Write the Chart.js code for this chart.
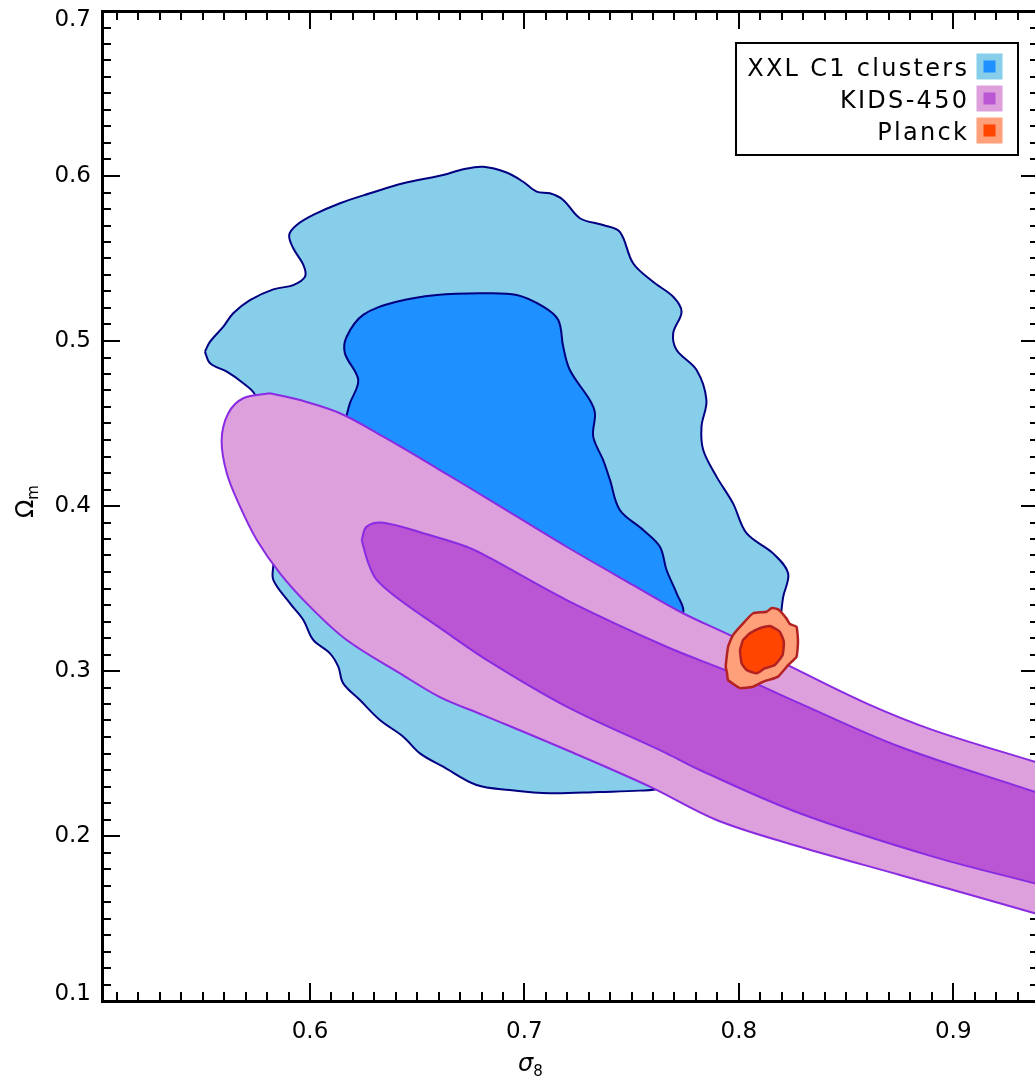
<!DOCTYPE html>
<html>
<head>
<meta charset="utf-8">
<script src="https://cdn.jsdelivr.net/npm/chart.js@4.4.1/dist/chart.umd.min.js"></script>
<style>
  html, body { margin: 0; padding: 0; background: #fff; overflow: hidden; }
  canvas { display: block; }
</style>
</head>
<body>
<canvas id="c" width="1045" height="1079"></canvas>
<script>
// Axis ranges and labelled ticks
const xRange = [0.503, 0.94];
const yRange = [0.1, 0.7];
const xTickValues = [0.6, 0.7, 0.8, 0.9];
const xTickLabels = ['0.6', '0.7', '0.8', '0.9'];
const yTickValues = [0.1, 0.2, 0.3, 0.4, 0.5, 0.6, 0.7];
const yTickLabels = ['0.1', '0.2', '0.3', '0.4', '0.5', '0.6', '0.7'];

// Probes and their colours (outer = 2 sigma, inner = 1 sigma)
const seriesNames = ['XXL C1 clusters', 'KIDS-450', 'Planck'];
const outerColors = ['#87CEEB', '#DDA0DD', '#FFA07A'];
const innerColors = ['#1E90FF', '#BA55D3', '#FF4500'];
const edgeColors  = ['#000080', '#8A2BE2', '#B22222'];

// Contour vertices, [sigma8, Omega_m]
const xxlOuter = [
  [0.5510,0.4935],[0.5534,0.4996],[0.5596,0.5087],[0.5642,0.5168],[0.5720,0.5248],[0.5829,0.5313],
  [0.5922,0.5339],[0.5977,0.5390],[0.5969,0.5461],[0.5922,0.5562],[0.5903,0.5642],[0.5938,0.5703],
  [0.6015,0.5764],[0.6140,0.5835],[0.6280,0.5895],[0.6435,0.5956],[0.6621,0.6006],[0.6715,0.6041],
  [0.6808,0.6056],[0.6917,0.6021],[0.6994,0.5965],[0.7057,0.5905],[0.7119,0.5895],[0.7181,0.5855],
  [0.7259,0.5744],[0.7367,0.5703],[0.7445,0.5662],[0.7507,0.5471],[0.7600,0.5359],[0.7694,0.5268],
  [0.7733,0.5178],[0.7694,0.5047],[0.7710,0.4945],[0.7803,0.4824],[0.7849,0.4642],[0.7826,0.4481],
  [0.7834,0.4339],[0.7896,0.4178],[0.7973,0.4016],[0.8036,0.3835],[0.8160,0.3713],[0.8230,0.3592],
  [0.8207,0.3450],[0.8199,0.3370],[0.8182,0.3188],[0.8121,0.2885],[0.8005,0.2642],[0.7818,0.2430],
  [0.7632,0.2291],[0.7538,0.2275],[0.7352,0.2267],[0.7119,0.2259],[0.6932,0.2279],[0.6777,0.2309],
  [0.6621,0.2420],[0.6513,0.2501],[0.6435,0.2602],[0.6326,0.2703],[0.6233,0.2824],[0.6155,0.2925],
  [0.6132,0.3026],[0.6093,0.3107],[0.6015,0.3188],[0.5969,0.3309],[0.5907,0.3410],[0.5829,0.3552],
  [0.5829,0.3653],[0.5814,0.3855],[0.5795,0.4158],[0.5776,0.4461],[0.5744,0.4673],[0.5689,0.4744],
  [0.5612,0.4814],[0.5534,0.4865]
];
const xxlInner = [
  [0.6171,0.4552],[0.6186,0.4622],[0.6225,0.4764],[0.6163,0.4925],[0.6171,0.5026],[0.6248,0.5158],
  [0.6404,0.5238],[0.6591,0.5279],[0.6793,0.5289],[0.6964,0.5279],[0.7088,0.5208],[0.7158,0.5127],
  [0.7181,0.4965],[0.7212,0.4824],[0.7305,0.4642],[0.7329,0.4562],[0.7321,0.4420],[0.7367,0.4279],
  [0.7399,0.4158],[0.7445,0.3976],[0.7554,0.3855],[0.7632,0.3753],[0.7663,0.3612],[0.7710,0.3471],
  [0.7740,0.3350],[0.7632,0.3188],[0.7166,0.3430],[0.6653,0.3794],[0.6326,0.4218],[0.6172,0.4461]
];
const kidsOuter = [
  [0.5814,0.4683],[0.5953,0.4642],[0.6140,0.4562],[0.6342,0.4420],[0.6606,0.4218],[0.6839,0.4036],
  [0.7197,0.3753],[0.7507,0.3521],[0.7740,0.3350],[0.7973,0.3208],[0.8238,0.3030],[0.8595,0.2804],
  [0.8906,0.2642],[0.9380,0.2450],[0.9750,0.2300],
  [0.9750,0.1395],[0.9380,0.1532],[0.8751,0.1764],[0.8284,0.1935],[0.7896,0.2097],[0.7585,0.2299],
  [0.7197,0.2521],[0.6808,0.2733],[0.6606,0.2842],[0.6420,0.2986],[0.6171,0.3188],[0.6000,0.3390],
  [0.5860,0.3592],[0.5752,0.3794],[0.5674,0.3996],[0.5612,0.4198],[0.5588,0.4400],[0.5619,0.4562],
  [0.5689,0.4653]
];
const kidsInner = [
  [0.6241,0.3794],[0.6264,0.3875],[0.6342,0.3899],[0.6528,0.3835],[0.6731,0.3753],[0.6839,0.3685],
  [0.7197,0.3430],[0.7663,0.3147],[0.7973,0.2986],[0.8284,0.2804],[0.8751,0.2541],[0.9380,0.2268],
  [0.9750,0.2107],
  [0.9750,0.1586],[0.9380,0.1713],[0.8906,0.1875],[0.8284,0.2138],[0.7818,0.2400],[0.7663,0.2501],
  [0.7197,0.2784],[0.6839,0.3055],[0.6606,0.3261],[0.6420,0.3430],[0.6311,0.3552],[0.6270,0.3661]
];
const planckOuter = [
  [0.8005,0.2895],[0.7950,0.2945],[0.7945,0.2988],[0.7939,0.3026],[0.7950,0.3147],[0.7973,0.3218],
  [0.8020,0.3289],[0.8067,0.3350],[0.8129,0.3359],[0.8154,0.3382],[0.8183,0.3374],[0.8222,0.3319],
  [0.8238,0.3285],[0.8269,0.3268],[0.8276,0.3178],[0.8269,0.3087],[0.8230,0.3036],[0.8183,0.2966],
  [0.8113,0.2935],[0.8067,0.2905]
];
const planckInner = [
  [0.8005,0.3127],[0.8020,0.3188],[0.8051,0.3228],[0.8098,0.3259],[0.8145,0.3273],[0.8191,0.3238],
  [0.8210,0.3178],[0.8204,0.3097],[0.8168,0.3036],[0.8121,0.3016],[0.8083,0.2986],[0.8036,0.3006],
  [0.8013,0.3047]
];

const FONT = '"DejaVu Sans", "Liberation Sans", sans-serif';

// closed polygon as {x, y} points
const closed = pts => pts.concat([pts[0]]).map(([x, y]) => ({ x, y }));

function contour(pts, fillColor, edgeColor, width, tension, order) {
  return {
    data: closed(pts),
    showLine: true,
    fill: 'shape',
    backgroundColor: fillColor,
    borderColor: edgeColor,
    borderWidth: width,
    tension: tension,
    capBezierPoints: false,
    pointRadius: 0,
    pointHoverRadius: 0,
    order: order
  };
}

const datasets = [
  contour(xxlOuter,    outerColors[0], edgeColors[0], 2,   0.35, 6),
  contour(xxlInner,    innerColors[0], edgeColors[0], 2,   0.35, 5),
  contour(kidsOuter,   outerColors[1], edgeColors[1], 2,   0.35, 4),
  contour(kidsInner,   innerColors[1], edgeColors[1], 2,   0.35, 3),
  contour(planckOuter, outerColors[2], edgeColors[2], 2.5, 0.15, 2),
  contour(planckInner, innerColors[2], edgeColors[2], 2.5, 0.15, 1)
];
datasets.forEach((d, i) => { d.label = seriesNames[Math.floor(i / 2)]; });

// inward minor / major tick marks on all four sides
const tickMarks = {
  id: 'tickMarks',
  beforeDatasetsDraw(chart) {
    const { ctx, chartArea: a, scales } = chart;
    ctx.save();
    ctx.strokeStyle = '#000';
    ctx.lineWidth = 2;
    ctx.beginPath();
    const xs = scales.x, ys = scales.y;
    for (let i = Math.ceil(xs.min * 100 - 1e-6); i <= Math.floor(xs.max * 100 + 1e-6); i++) {
      const px = Math.round(xs.getPixelForValue(i / 100));
      const len = i % 10 === 0 ? 18 : 9;
      ctx.moveTo(px, a.bottom); ctx.lineTo(px, a.bottom - len);
      ctx.moveTo(px, a.top);    ctx.lineTo(px, a.top + len);
    }
    for (let i = Math.ceil(ys.min * 100 - 1e-6); i <= Math.floor(ys.max * 100 + 1e-6); i++) {
      const py = Math.round(ys.getPixelForValue(i / 100));
      const len = i % 10 === 0 ? 18 : 9;
      ctx.moveTo(a.left, py);  ctx.lineTo(a.left + len, py);
      ctx.moveTo(a.right, py); ctx.lineTo(a.right - len, py);
    }
    ctx.stroke();
    ctx.restore();
  }
};

// axis titles with subscripts
const axisTitles = {
  id: 'axisTitles',
  afterDraw(chart) {
    const { ctx, chartArea: a } = chart;
    ctx.save();
    ctx.fillStyle = '#000';
    ctx.textBaseline = 'alphabetic';
    // sigma_8
    ctx.textAlign = 'left';
    ctx.font = 'italic 24px ' + FONT;
    const sx = a.left + 416, sy = a.bottom + 70;
    ctx.fillText('σ', sx, sy);
    const sw = ctx.measureText('σ').width;
    ctx.font = '15px ' + FONT;
    ctx.fillText('8', sx + sw, sy + 5);
    // Omega_m, rotated
    ctx.translate(a.left - 69, (a.top + a.bottom) / 2 + 12);
    ctx.rotate(-Math.PI / 2);
    ctx.font = '24px ' + FONT;
    ctx.fillText('Ω', 0, 0);
    const ow = ctx.measureText('Ω').width;
    ctx.font = '15px ' + FONT;
    ctx.fillText('m', ow, 5);
    ctx.restore();
  }
};

// framed legend in the upper right, swatch = outer square with inner square
const legendBox = {
  id: 'legendBox',
  afterDraw(chart) {
    const { ctx, chartArea: a } = chart;
    const right = a.right - 21, top = a.top + 32, w = 282, h = 112;
    ctx.save();
    ctx.fillStyle = '#fff';
    ctx.fillRect(right - w, top, w, h);
    ctx.strokeStyle = '#000';
    ctx.lineWidth = 2;
    ctx.strokeRect(right - w, top, w, h);
    ctx.font = '24px ' + FONT;
    ctx.letterSpacing = '2.3px';
    ctx.textAlign = 'right';
    ctx.textBaseline = 'alphabetic';
    seriesNames.forEach((name, i) => {
      const cy = top + 23.5 + 32 * i;
      const cx = right - 28.5;
      ctx.fillStyle = outerColors[i];
      ctx.fillRect(cx - 13, cy - 13, 26, 26);
      ctx.fillStyle = innerColors[i];
      ctx.fillRect(cx - 6, cy - 6, 12, 12);
      ctx.fillStyle = '#000';
      ctx.fillText(name, right - 48.7, cy + 9);
    });
    ctx.restore();
  }
};

const noGrid = { display: false, drawTicks: false };
const axisBorder = { display: true, color: '#000', width: 3 };

// end labels of the vertical axis sit just inside the frame
const yEndShift = { 0.7: 9, 0.1: -7 };
const yLabel = v => {
  const text = yTickLabels[yTickValues.findIndex(t => Math.abs(t - v) < 1e-9)];
  const key = v.toFixed(1);
  if (yEndShift[key] > 0) return ['', text];
  if (yEndShift[key] < 0) return [text, ''];
  return text;
};
const yFont = ctx => {
  const v = ctx.tick ? ctx.tick.value : 0;
  const s = yEndShift[v.toFixed(1)];
  return s ? { family: FONT, size: 23, lineHeight: (2 * Math.abs(s)) + 'px' } : { family: FONT, size: 23 };
};

new Chart(document.getElementById('c'), {
  type: 'scatter',
  data: { datasets },
  options: {
    responsive: false,
    animation: false,
    events: [],
    layout: { padding: 0 },
    plugins: { legend: { display: false }, tooltip: { enabled: false } },
    scales: {
      x: {
        type: 'linear', position: 'bottom', min: xRange[0], max: xRange[1],
        afterBuildTicks: s => { s.ticks = xTickValues.map(v => ({ value: v })); },
        afterFit: s => { s.height = 78; s.paddingLeft = 0; s.paddingRight = 0; },
        ticks: { font: { family: FONT, size: 23 }, color: '#000', padding: 17, maxRotation: 0,
                 callback: v => xTickLabels[xTickValues.findIndex(t => Math.abs(t - v) < 1e-9)] },
        grid: noGrid, border: axisBorder
      },
      x2: {
        type: 'linear', position: 'top', min: xRange[0], max: xRange[1],
        afterFit: s => { s.height = 11; s.paddingLeft = 0; s.paddingRight = 0; },
        ticks: { display: false }, grid: noGrid, border: axisBorder
      },
      y: {
        type: 'linear', position: 'left', min: yRange[0], max: yRange[1],
        afterBuildTicks: s => { s.ticks = yTickValues.map(v => ({ value: v })); },
        afterFit: s => { s.width = 102; s.paddingTop = 0; s.paddingBottom = 0; },
        ticks: { font: yFont, color: '#000', padding: 11, callback: yLabel },
        grid: noGrid, border: axisBorder
      },
      y2: {
        type: 'linear', position: 'right', min: yRange[0], max: yRange[1],
        afterFit: s => { s.width = 6; s.paddingTop = 0; s.paddingBottom = 0; },
        ticks: { display: false }, grid: noGrid, border: axisBorder
      }
    }
  },
  plugins: [tickMarks, axisTitles, legendBox]
});
</script>
</body>
</html>
